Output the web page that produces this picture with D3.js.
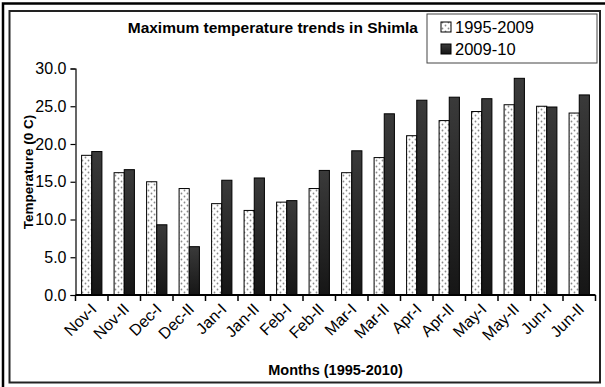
<!DOCTYPE html>
<html>
<head>
<meta charset="utf-8">
<script src="https://cdn.jsdelivr.net/npm/d3@7"></script>
<style>
  html, body { margin: 0; padding: 0; background: #fff; }
  svg { display: block; font-family: "Liberation Sans", Arial, sans-serif; }
</style>
</head>
<body>
<svg id="chart" width="605" height="387"></svg>
<script>
// Fortnightly periods from November to June
const categories = ["Nov-I", "Nov-II", "Dec-I", "Dec-II", "Jan-I", "Jan-II", "Feb-I", "Feb-II",
                    "Mar-I", "Mar-II", "Apr-I", "Apr-II", "May-I", "May-II", "Jun-I", "Jun-II"];
const seriesNames = ["1995-2009", "2009-10"];
// Maximum temperature (°C)
const avg1995_2009 = [18.5, 16.2, 15.0, 14.1, 12.1, 11.2, 12.3, 14.1, 16.2, 18.2, 21.1, 23.1, 24.3, 25.2, 25.0, 24.1];
const season2009_10 = [19.0, 16.6, 9.3, 6.4, 15.2, 15.5, 12.5, 16.5, 19.1, 24.0, 25.8, 26.2, 26.0, 28.7, 24.9, 26.5];
const yTicks = [0, 5, 10, 15, 20, 25, 30];

const svg = d3.select("#chart");
const defs = svg.append("defs");

// dotted fill for the long-term average bars
const dots = defs.append("pattern")
  .attr("id", "dots").attr("patternUnits", "userSpaceOnUse")
  .attr("width", 6).attr("height", 6);
dots.append("rect").attr("width", 6).attr("height", 6).attr("fill", "#fff");
dots.append("circle").attr("cx", 1.5).attr("cy", 1.5).attr("r", 0.9).attr("fill", "#8a8a8a");
dots.append("circle").attr("cx", 4.5).attr("cy", 4.5).attr("r", 0.9).attr("fill", "#8a8a8a");

// dark shaded fill for the 2009-10 bars
const grad = defs.append("linearGradient")
  .attr("id", "dark").attr("x1", 0).attr("y1", 0).attr("x2", 0).attr("y2", 1);
grad.append("stop").attr("offset", "0%").attr("stop-color", "#3a3a3a");
grad.append("stop").attr("offset", "100%").attr("stop-color", "#161616");

// frames
svg.append("path")
  .attr("d", "M3,387 V3.5 H605")
  .attr("fill", "none").attr("stroke", "#000").attr("stroke-width", 2.5);
svg.append("rect")
  .attr("x", 9.5).attr("y", 11).attr("width", 590.5).attr("height", 371.5)
  .attr("fill", "#fff").attr("stroke", "#222").attr("stroke-width", 2);

const x0 = 75.5, x1 = 595.5, yBase = 295, yTop = 68.5;

const x = d3.scaleBand().domain(categories).range([x0, x1]).padding(0);
const xs = d3.scaleBand().domain(seriesNames).range([0, x.bandwidth()])
  .paddingInner(0).paddingOuter(0.6);
const y = d3.scaleLinear().domain([0, 30]).range([yBase, yTop]);

// bars
const fills = ["url(#dots)", "url(#dark)"];
const seriesData = [avg1995_2009, season2009_10];
seriesData.forEach((vals, si) => {
  svg.append("g").selectAll("rect")
    .data(vals)
    .join("rect")
    .attr("x", (d, i) => x(categories[i]) + xs(seriesNames[si]))
    .attr("y", d => y(d))
    .attr("width", xs.bandwidth())
    .attr("height", d => yBase - y(d))
    .attr("fill", fills[si])
    .attr("stroke", "#000")
    .attr("stroke-width", 1);
});

// y axis
const yAxis = svg.append("g")
  .attr("transform", `translate(${x0},0)`)
  .call(d3.axisLeft(y).tickValues(yTicks).tickFormat(d3.format(".1f")).tickSize(5).tickPadding(4));
yAxis.select(".domain").attr("stroke", "#000").attr("stroke-width", 1.2);
yAxis.selectAll(".tick line").attr("stroke", "#000").attr("stroke-width", 1.2);
yAxis.selectAll("text").attr("font-size", 16).attr("fill", "#000")
  .attr("font-family", "'Liberation Sans', Arial, sans-serif");

// x axis with ticks on category boundaries
const xAxis = svg.append("g").attr("transform", `translate(0,${yBase})`);
xAxis.append("line")
  .attr("x1", x0).attr("x2", x1).attr("y1", 0).attr("y2", 0)
  .attr("stroke", "#000").attr("stroke-width", 2);
const bounds = categories.map(c => x(c)).concat([x1]);
xAxis.selectAll("line.tk")
  .data(bounds).join("line").attr("class", "tk")
  .attr("x1", d => d).attr("x2", d => d).attr("y1", 0).attr("y2", 6)
  .attr("stroke", "#000").attr("stroke-width", 1.5);
xAxis.selectAll("text.lbl")
  .data(categories).join("text").attr("class", "lbl")
  .attr("transform", d => `translate(${x(d) + x.bandwidth() / 2 + 6},${15}) rotate(-45)`)
  .attr("text-anchor", "end")
  .attr("font-size", 16)
  .text(d => d);

// axis titles
svg.append("text")
  .attr("x", (x0 + x1) / 2).attr("y", 375)
  .attr("text-anchor", "middle").attr("font-size", 14.5).attr("font-weight", "bold")
  .text("Months (1995-2010)");
svg.append("text")
  .attr("transform", `translate(33,172) rotate(-90)`)
  .attr("text-anchor", "middle").attr("font-size", 13.5).attr("font-weight", "bold")
  .text("Temperature (0 C)");

// chart title
svg.append("text")
  .attr("x", 418).attr("y", 33)
  .attr("text-anchor", "end").attr("font-size", 15.5).attr("font-weight", "bold")
  .text("Maximum temperature trends in Shimla");

// legend
const lg = svg.append("g");
lg.append("rect")
  .attr("x", 427).attr("y", 14).attr("width", 170).attr("height", 49)
  .attr("fill", "#fff").attr("stroke", "#444").attr("stroke-width", 1);
seriesNames.forEach((name, i) => {
  const ly = 27 + i * 22;
  lg.append("rect")
    .attr("x", 441).attr("y", ly - 5).attr("width", 10).attr("height", 10)
    .attr("fill", fills[i]).attr("stroke", "#000").attr("stroke-width", 1);
  lg.append("text")
    .attr("x", 455).attr("y", ly + 5.5)
    .attr("font-size", 16.5)
    .text(name);
});
</script>
</body>
</html>
